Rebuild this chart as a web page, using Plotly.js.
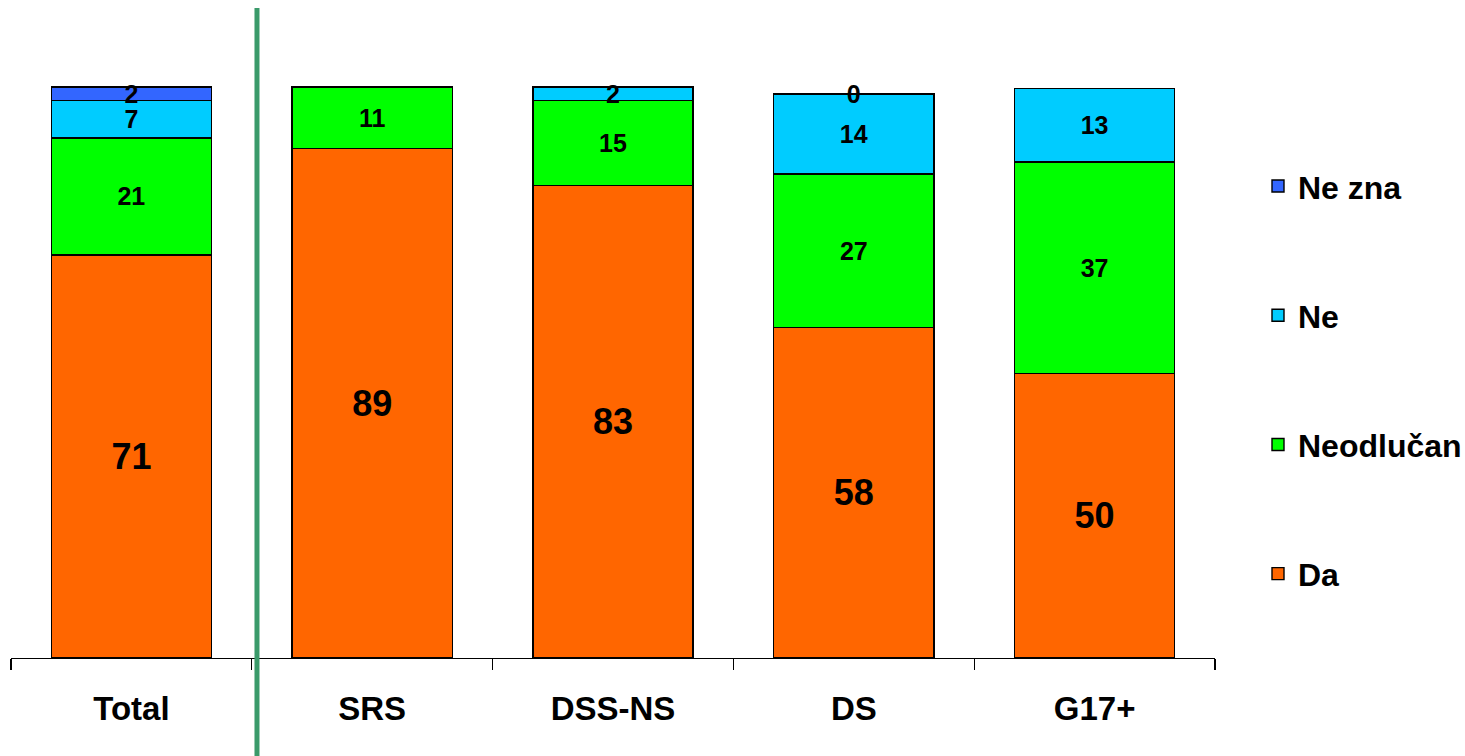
<!DOCTYPE html>
<html>
<head>
<meta charset="utf-8">
<script src="https://cdn.plot.ly/plotly-3.0.1.min.js"></script>
<style>html,body{margin:0;padding:0;background:#fff;}#chart{width:1465px;height:756px;}</style>
</head>
<body>
<div id="chart"></div>
<script>
// Data
const categories = ['Total', 'SRS', 'DSS-NS', 'DS', 'G17+'];
const da         = [70.6, 89.2, 82.8, 57.9, 49.8];
const neodlucan  = [20.5, 10.8, 14.9, 26.9, 37.1];
const ne         = [6.5, null, 2.3, 14.0, 12.9];
const neZna      = [2.4, null, null, 0.1, null];
const seriesNames = ['Da', 'Neodlučan', 'Ne', 'Ne zna'];

const FONT = 'Liberation Sans, Arial, sans-serif';
const colors = ['#FF6600', '#00FF00', '#00CCFF', '#3366FF'];
const labelSizes = [36, 25, 25, 25];
const seriesValues = [da, neodlucan, ne, neZna];

const traces = seriesValues.map((vals, i) => ({
  type: 'bar',
  name: seriesNames[i],
  x: categories,
  y: vals,
  legendgroup: 'g' + i,
  legendrank: 10 - i,
  marker: { color: colors[i], line: { color: '#000', width: 1.4 } },
  text: vals.map(v => v == null ? '' : String(Math.round(v))),
  textposition: 'inside',
  insidetextanchor: 'middle',
  constraintext: 'none',
  textangle: 0,
  textfont: { family: FONT, size: labelSizes[i], color: '#000', weight: 700 },
  hoverinfo: 'name+y'
}));

const layout = {
  width: 1465, height: 756,
  margin: { l: 11, r: 250, t: 30, b: 98, autoexpand: false },
  paper_bgcolor: '#fff', plot_bgcolor: '#fff',
  barmode: 'stack',
  bargap: 0.335,
  showlegend: true,
  legend: {
    xref: 'container', yref: 'paper',
    x: 0.8587, xanchor: 'left', y: 0.795, yanchor: 'top',
    traceorder: 'grouped',
    tracegroupgap: 84.6,
    font: { family: FONT, size: 32, color: '#000', weight: 700 },
    bgcolor: 'rgba(0,0,0,0)'
  },
  xaxis: {
    type: 'category',
    showline: true, linecolor: '#000', linewidth: 1.3,
    ticks: 'outside', tickson: 'boundaries', ticklen: 11, tickcolor: '#000', tickwidth: 1.3,
    ticklabelstandoff: 21,
    tickfont: { family: FONT, size: 33, color: '#000', weight: 700 },
    showgrid: false, zeroline: false, fixedrange: true
  },
  yaxis: {
    range: [0, 110], visible: false, showgrid: false, zeroline: false, fixedrange: true
  },
  shapes: [{
    type: 'line', xref: 'paper', yref: 'paper',
    x0: 0.2043, x1: 0.2043, y0: -0.16, y1: 1.035,
    line: { color: '#3A9A6A', width: 5 }
  }]
};

Plotly.newPlot('chart', traces, layout, { displayModeBar: false, staticPlot: true });
</script>
</body>
</html>
